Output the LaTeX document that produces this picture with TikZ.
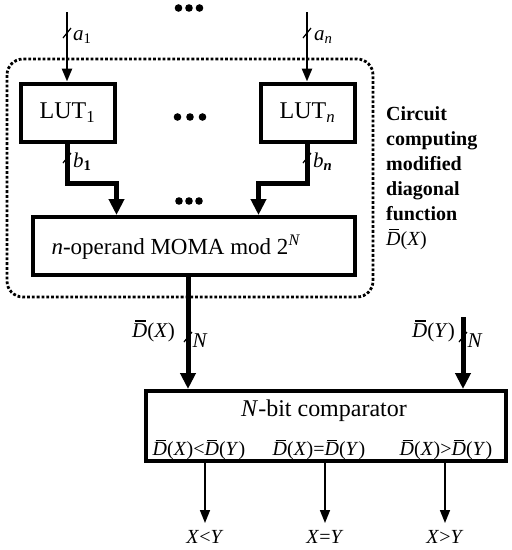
\documentclass[tikz,border=0pt]{standalone}
\usepackage{fontspec}
\setmainfont{Liberation Serif}
\usetikzlibrary{arrows.meta}
\newcommand\Db{\makebox[0pt][l]{\kern0.14em\rule[0.74em]{0.5em}{0.06em}}\textit{D}}
\begin{document}
\begin{tikzpicture}[x=1pt,y=-1pt,
  blk/.style={draw, line width=4pt, inner sep=0pt, font=\fontsize{24}{28}\selectfont},
  tin/.style={line width=2.5pt, -{Triangle[length=13pt,width=10pt]}},
  tbus/.style={line width=5pt, -{Triangle[length=16pt,width=15pt]}},
  tout/.style={line width=1.6pt, -{Triangle[length=13pt,width=10pt]}},
  slash/.style={line width=1.2pt},
  lbl/.style={inner sep=0pt, font=\fontsize{21}{24}\selectfont},
  sublbl/.style={inner sep=0pt, font=\fontsize{20}{24}\selectfont},
  frame/.style={dotted, line width=2.8pt, rounded corners=16pt},
  bigdot/.style={fill=black},
]
\useasboundingbox (0,0) rectangle (512,550);

% dotted frame
\draw[frame] (7,59) rectangle (373,297);

% blocks
\node[blk, minimum width=94pt, minimum height=58pt] (lut1) at (67.5,112.5) {LUT\textsubscript{1}};
\node[blk, minimum width=94pt, minimum height=58pt] (lutn) at (307.5,112.5) {LUT\textsubscript{\textit{n}}};
\node[blk, minimum width=322pt, minimum height=58pt] (moma) at (194,246) {};
\node[lbl, font=\fontsize{23}{27}\selectfont] (momat) at (176,247) {\textit{n}-operand MOMA mod 2\textsuperscript{\textit{N}}};
\node[blk, minimum width=360pt, minimum height=70pt] (comp) at (326,426) {};

% dots
\foreach \cx/\cy/\d in {189/8/10.5, 190/117/12.5, 189/201/10}{
  \fill[bigdot] (\cx-\d,\cy) circle (3.8pt);
  \fill[bigdot] (\cx,\cy) circle (3.8pt);
  \fill[bigdot] (\cx+\d,\cy) circle (3.8pt);
}

% inputs
\coordinate (a1s) at (67,12);
\coordinate (ans) at (307,12);
\draw[tin] (a1s) -- (a1s |- lut1.north);
\draw[tin] (ans) -- (ans |- lutn.north);
\draw[slash] (67,33) ++(-4,5) -- ++(8,-10);
\draw[slash] (307,33) ++(-4,5) -- ++(8,-10);
\node[lbl, anchor=west] (la1) at (73,37) {\textit{a}\textsubscript{1}};
\node[lbl, anchor=west] (lan) at (314,37) {\textit{a}\textsubscript{\textit{n}}};

% buses into MOMA
\coordinate (m1) at (moma.north -| lut1.east);
\coordinate (mn) at (moma.north -| lutn.west);
\draw[tbus] (lut1.south) -- ++(0,40) -| (m1);
\draw[tbus] (lutn.south) -- ++(0,40) -| (mn);
\draw[slash] (67,158) ++(-4,5) -- ++(8,-10);
\draw[slash] (307,158) ++(-4,5) -- ++(8,-10);
\node[lbl, anchor=west] (lb1) at (73,162) {\textit{b}\textsubscript{\textbf{1}}};
\node[lbl, anchor=west] (lbn) at (313,162) {\textit{b}\textsubscript{\textbf{\textit{n}}}};

% side text
\node[anchor=north west, align=left, inner sep=0pt, font=\fontsize{20}{25}\selectfont\bfseries] (side) at (386,106)
  {Circuit\\computing\\modified\\diagonal\\function\\\normalfont\Db(\textit{X})};

% D(X), D(Y) into comparator
\coordinate (dxs) at (188,277);
\coordinate (dys) at (463,317);
\draw[tbus] (dxs) -- (dxs |- comp.north);
\draw[tbus] (dys) -- (dys |- comp.north);
\draw[slash] (188,337) ++(-4,5) -- ++(8,-10);
\draw[slash] (463,337) ++(-4,5) -- ++(8,-10);
\node[lbl, anchor=east] (ldx) at (175,331) {\Db(\textit{X})};
\node[lbl] (ndx) at (200,341) {\textit{N}};
\node[lbl, anchor=east] (ldy) at (455,331) {\Db(\textit{Y})};
\node[lbl] (ndy) at (475,341) {\textit{N}};

% comparator labels
\node[lbl, font=\fontsize{24}{28}\selectfont] (ctitle) at (324,411) {\textit{N}-bit comparator};
\node[sublbl] (s1) at (199,450) {\Db(\textit{X})<\Db(\textit{Y})};
\node[sublbl] (s2) at (319,450) {\Db(\textit{X})=\Db(\textit{Y})};
\node[sublbl] (s3) at (446,450) {\Db(\textit{X})>\Db(\textit{Y})};

% outputs
\node[sublbl, anchor=north] (o1) at (205,530) {\textit{X}<\textit{Y}};
\node[sublbl, anchor=north] (o2) at (325,530) {\textit{X}=\textit{Y}};
\node[sublbl, anchor=north] (o3) at (445,530) {\textit{X}>\textit{Y}};
\draw[tout] (o1.north |- comp.south) -- ([yshift=7pt]o1.north);
\draw[tout] (o2.north |- comp.south) -- ([yshift=7pt]o2.north);
\draw[tout] (o3.north |- comp.south) -- ([yshift=7pt]o3.north);
\end{tikzpicture}
\end{document}
